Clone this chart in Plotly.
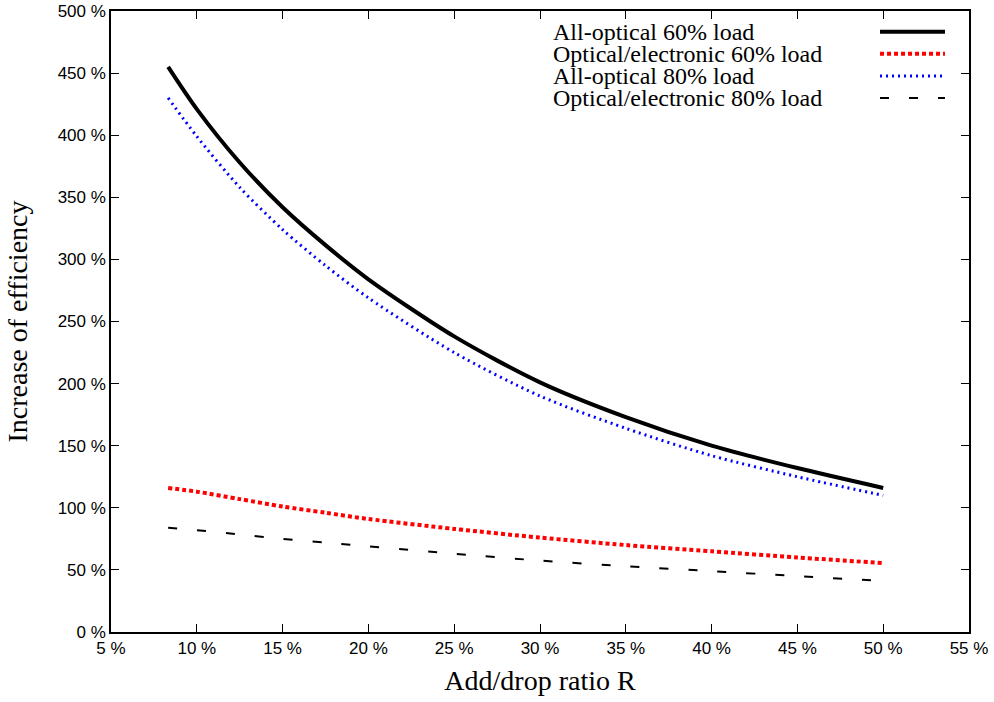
import plotly.graph_objects as go

# Data
R = [8.33, 10, 12.5, 15, 17.5, 20, 25, 30, 35, 40, 45, 50]
all_opt_60 = [455, 421, 378, 342, 311.5, 284, 238, 201, 173, 150, 132, 116]
opt_el_60 = [116, 113, 107, 101, 96, 91, 83, 76, 70, 65, 60, 55.5]
all_opt_80 = [430, 399, 358, 324, 295, 269, 225, 190, 164, 142, 125, 110]
opt_el_80 = [84, 82, 78.5, 75, 72, 69, 63, 57.5, 53, 49, 45, 41]

series_names = ["All-optical 60% load", "Optical/electronic 60% load",
                "All-optical 80% load", "Optical/electronic 80% load"]
series_vals = [all_opt_60, opt_el_60, all_opt_80, opt_el_80]
styles = [
    dict(color="black", width=4, dash="solid"),
    dict(color="#ff0000", width=4, dash="4px,3px"),
    dict(color="#0000ff", width=3, dash="2px,4px"),
    dict(color="black", width=2, dash="9px,20px"),
]

xticks = list(range(5, 56, 5))
yticks = list(range(0, 501, 50))

fig = go.Figure()
for name, vals, st in zip(series_names, series_vals, styles):
    fig.add_trace(go.Scatter(x=R, y=vals, mode="lines", name=name,
                             line=dict(shape="spline", smoothing=0.8, **st),
                             showlegend=False))

# Custom gnuplot-style legend (text left, sample right)
leg_y = [0.9665, 0.931, 0.8955, 0.86]
for name, st, yy in zip(series_names, styles, leg_y):
    fig.add_annotation(x=0.5128, y=yy, xref="paper", yref="paper", text=name,
                       showarrow=False, xanchor="left", yanchor="middle",
                       font=dict(family="Liberation Serif", size=24, color="black"))
    fig.add_shape(type="line", xref="paper", yref="paper", x0=0.8963, x1=0.972,
                  y0=yy, y1=yy, line=st)

axis_common = dict(showgrid=False, zeroline=False, showline=True, linecolor="black",
                   linewidth=1.5, mirror="ticks", ticks="inside", ticklen=8,
                   tickwidth=1.2, tickcolor="black", automargin=False,
                   tickfont=dict(family="Liberation Sans", size=17, color="black"))

fig.update_xaxes(range=[5, 55], tickvals=xticks, ticktext=[f"{t} %" for t in xticks],
                 title=dict(text="Add/drop ratio R", standoff=13,
                            font=dict(family="Liberation Serif", size=28, color="black")),
                 **axis_common)
fig.update_yaxes(range=[0, 500], tickvals=yticks, ticktext=[f"{t} %" for t in yticks],
                 title=dict(text="Increase of efficiency", standoff=22,
                            font=dict(family="Liberation Serif", size=28, color="black")),
                 **axis_common)

fig.update_layout(width=994, height=702, margin=dict(l=111, r=25, t=11, b=70),
                  plot_bgcolor="white", paper_bgcolor="white")
fig.write_html("out.html")
